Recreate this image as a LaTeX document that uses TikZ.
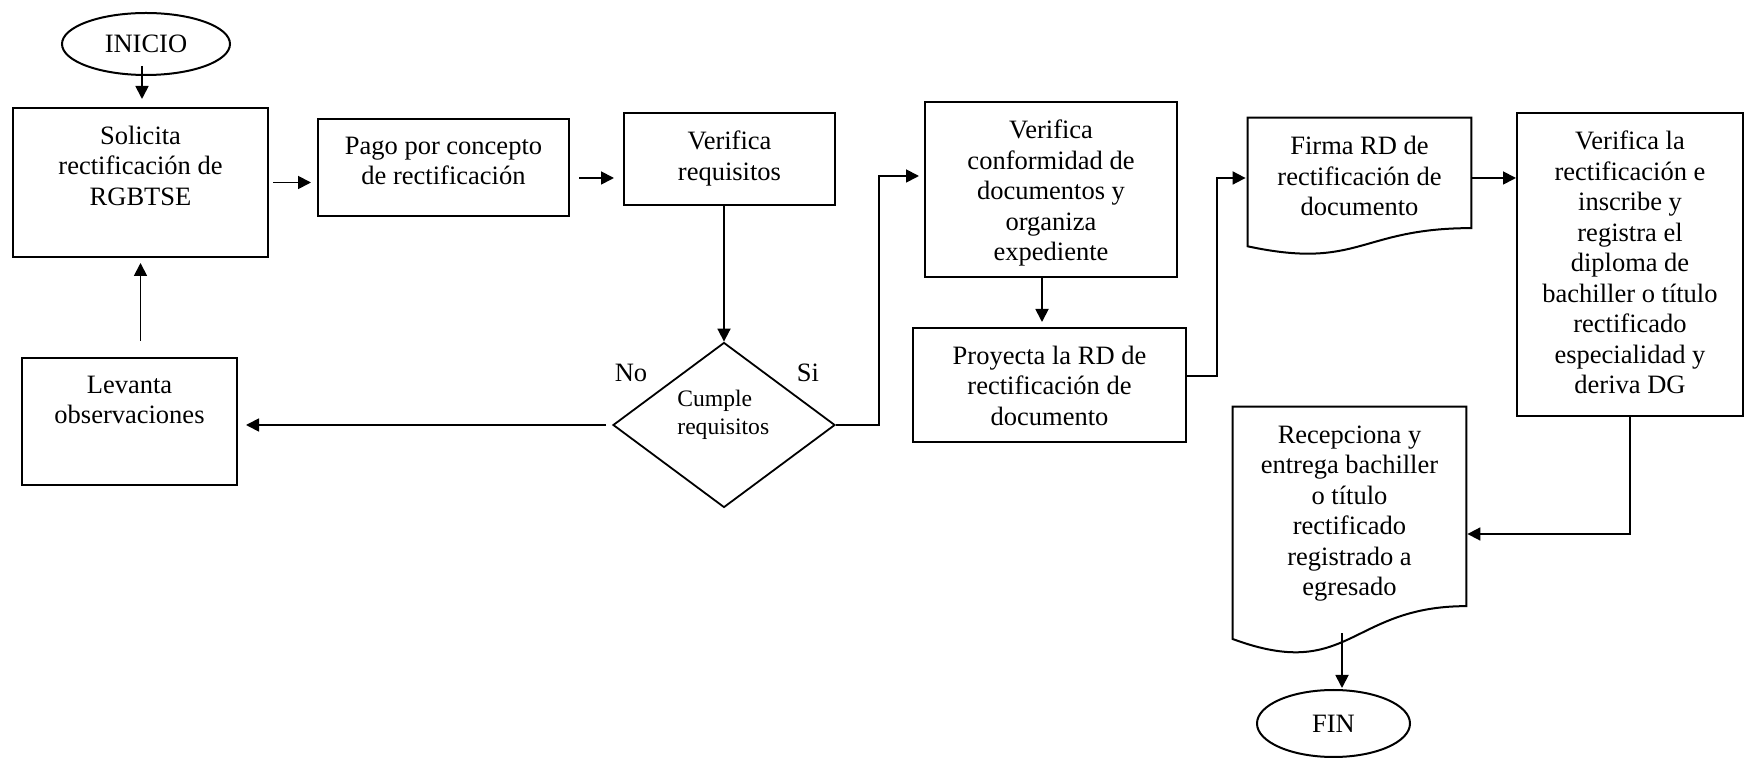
\documentclass[tikz,border=0pt]{standalone}
\usepackage{fontspec}
\setmainfont{Liberation Serif}
\usetikzlibrary{arrows.meta,shapes.geometric,calc}

% outline of a "document" box: flat top, wavy bottom edge
\newcommand\docoutline[1]{%
  \draw[boxline] (#1.north west) -- (#1.north east)
    -- ($(#1.north east)!0.802!(#1.south east)$)
    .. controls ($(#1.north)!0.802!(#1.south)$) and ($(#1.north)!1.108!(#1.south)$)
    .. ($(#1.north west)!0.934!(#1.south west)$) -- cycle;}

\begin{document}
\begin{tikzpicture}[x=0.5pt,y=-0.5pt,
  every node/.style={font=\fontsize{13.25}{15.25}\selectfont},
  boxline/.style={line width=1pt},
  box/.style={draw, boxline, rectangle, inner sep=0pt},
  docbox/.style={rectangle, inner sep=0pt},
  term/.style={draw, boxline, ellipse, inner sep=0pt},
  decision/.style={draw, line width=0.9pt, diamond, inner sep=0pt},
  boxtext/.style={anchor=north, align=center, inner sep=0pt, yshift=-9.25pt},
  dtext/.style={font=\fontsize{11.8}{14}\selectfont, align=left, inner sep=0pt},
  arr/.style={line width=0.9pt, -{Triangle[length=6.5pt,width=6.5pt]}},
]
\useasboundingbox (0,0) rectangle (1752,758);

% terminals
\node[term, minimum width=84pt, minimum height=31pt] (inicio) at (146,44) {INICIO};
\node[term, minimum width=76.5pt, minimum height=33.5pt] (fin) at (1333.5,723.5) {FIN};

% process boxes
\node[box, minimum width=127.5pt, minimum height=74.5pt] (solicita) at (140.5,182.5) {};
\node[boxtext] (solicita-t) at (solicita.north) {Solicita\\rectificación de\\RGBTSE};

\node[box, minimum width=125.5pt, minimum height=48.5pt] (pago) at (443.5,167.5) {};
\node[boxtext] (pago-t) at (pago.north) {Pago por concepto\\de rectificación};

\node[box, minimum width=105.5pt, minimum height=46pt] (verreq) at (729.5,159) {};
\node[boxtext] (verreq-t) at (verreq.north) {Verifica\\requisitos};

\node[box, minimum width=107.5pt, minimum height=63.5pt] (levanta) at (129.5,421.5) {};
\node[boxtext] (levanta-t) at (levanta.north) {Levanta\\observaciones};

\node[box, minimum width=126pt, minimum height=87.5pt] (verconf) at (1051,189.5) {};
\node[boxtext] (verconf-t) at (verconf.north) {Verifica\\conformidad de\\documentos y\\organiza\\expediente};

\node[box, minimum width=136.5pt, minimum height=57pt] (proy) at (1049.5,385) {};
\node[boxtext] (proy-t) at (proy.north) {Proyecta la RD de\\rectificación de\\documento};

\node[box, minimum width=113pt, minimum height=151.5pt] (verla) at (1630,264.5) {};
\node[boxtext] (verla-t) at (verla.north) {Verifica la\\rectificación e\\inscribe y\\registra el\\diploma de\\bachiller o título\\rectificado\\especialidad y\\deriva DG};

% document boxes
\node[docbox, minimum width=111.5pt, minimum height=68.5pt] (firma) at (1359.5,186.5) {};
\docoutline{firma}
\node[boxtext] (firma-t) at (firma.north) {Firma RD de\\rectificación de\\documento};

\node[docbox, minimum width=116.5pt, minimum height=124pt] (recep) at (1349.5,531) {};
\docoutline{recep}
\node[boxtext] (recep-t) at (recep.north) {Recepciona y\\entrega bachiller\\o título\\rectificado\\registrado a\\egresado};

% decision
\node[decision, minimum width=111pt, minimum height=82.5pt] (dec) at (724,425) {};
\node[dtext, anchor=west] (dec-t) at ($(dec.center)+(-47,-10)$) {Cumple\\requisitos};
\node (no) at ($(dec.center)+(-93,-52)$) {No};
\node (si) at ($(dec.center)+(84,-52)$) {Si};

% connectors
\draw[arr] ($(inicio.south)+(-4,-10)$) -- ($(inicio.south |- solicita.north)+(-4,-8)$);
\draw[arr] ($(solicita.east)+(4,0)$) -- ($(pago.west |- solicita.east)+(-6,0)$);
\draw[arr] ($(pago.east)+(9,10.5)$) -- ($(verreq.west)+(-9,19)$);
\draw[arr] (dec.north |- verreq.south) -- (dec.north);
\draw[arr] ($(dec.west)+(-6,0)$) -- ($(levanta.east |- dec.west)+(8,0)$);
\draw[arr] ($(solicita.south |- levanta.north)+(0,-16)$) -- ($(solicita.south)+(0,5)$);
\draw[arr] (dec.east) -- ++(43,0) |- ($(verconf.west)+(-5,-13.5)$);
\draw[arr] ($(verconf.south)+(-9,0)$) -- ($(verconf.south |- proy.north)+(-9,-5)$);
\draw[arr] ($(proy.east)+(0,-9)$) -- ++(30,0) |- ($(firma.west)+(-2,-8.5)$);
\draw[arr] ($(firma.east)+(0,-8.5)$) -- ($(verla.west |- firma.east)+(0,-8.5)$);
\draw[arr] (verla.south) |- ($(recep.east)+(1,3)$);
\draw[arr] ($(recep.south)+(-7.5,-22)$) -- ($(recep.south |- fin.north)+(-7.5,-1)$);
\end{tikzpicture}
\end{document}
